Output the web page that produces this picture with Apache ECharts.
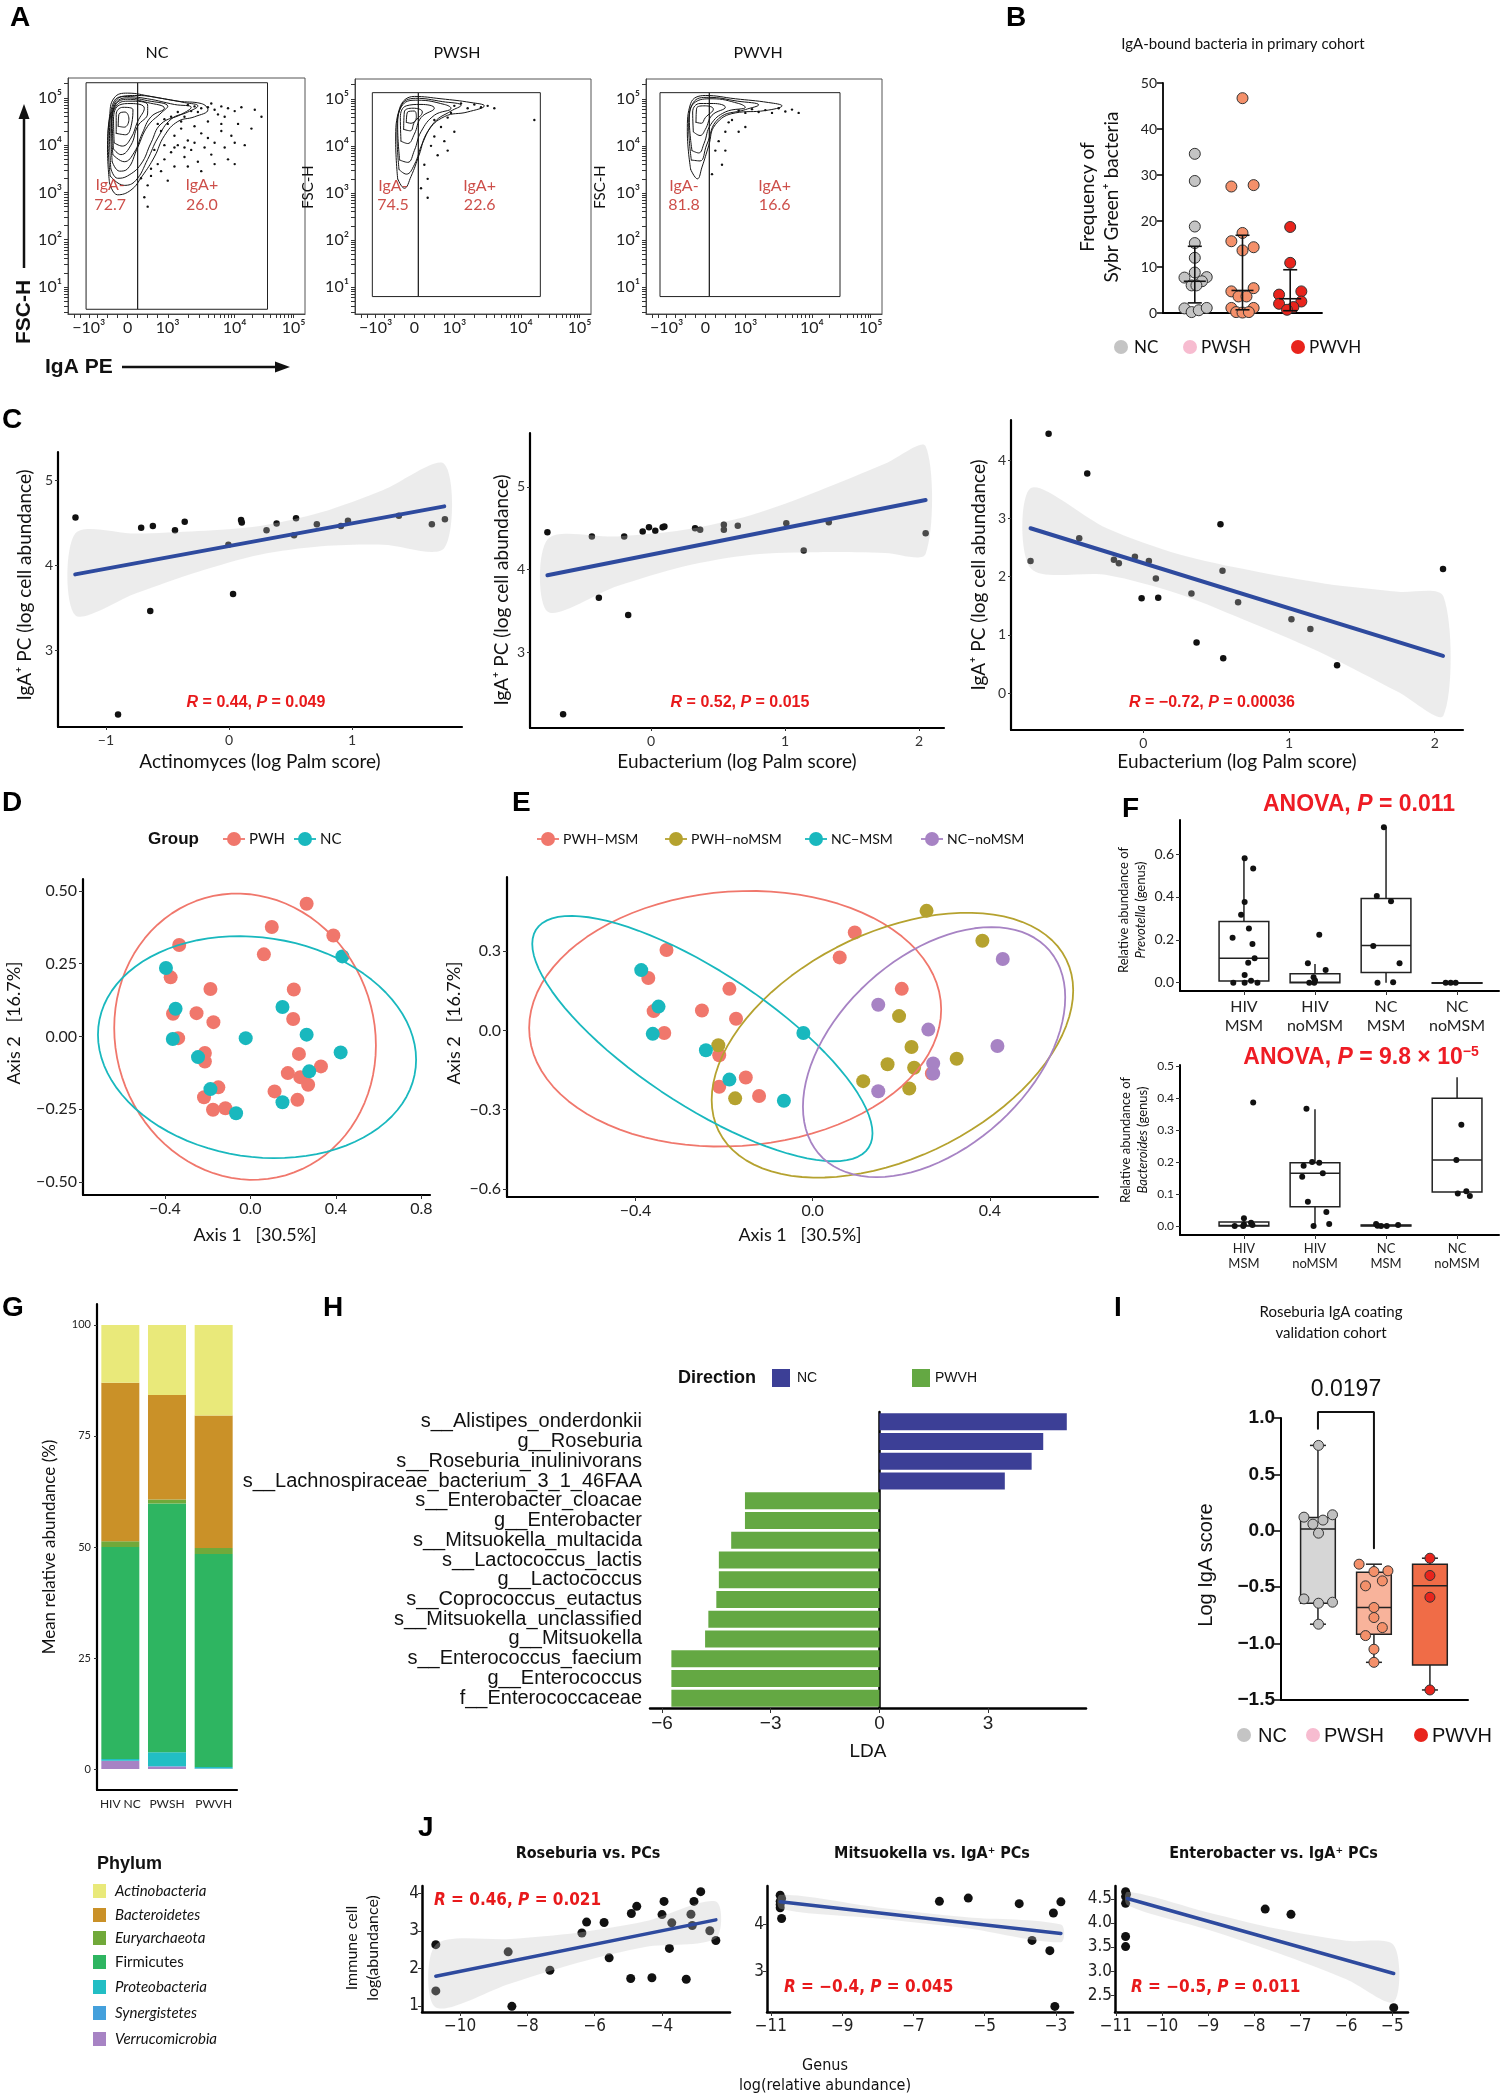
<!DOCTYPE html>
<html>
<head>
<meta charset="utf-8">
<title>IgA figure</title>
<script src="https://cdn.jsdelivr.net/npm/echarts@6.0.0/dist/echarts.min.js"></script>
<style>
  html, body { margin: 0; padding: 0; background: #fff; }
  #fig { width: 1501px; height: 2100px; }
</style>
</head>
<body>
<div id="fig"></div>
<script>
const FONT = "Lato, 'Open Sans', sans-serif";
const ARIAL = "'Liberation Sans', Arial, sans-serif";
const NARROW = "'Liberation Sans Narrow', 'DejaVu Sans Condensed', 'Liberation Sans', sans-serif";

// ---------------- A: flow cytometry (x in biexponential display units, y = log10 FSC-H)
const flowTitles = ['NC', 'PWSH', 'PWVH'];
const flowXTicks = [-0.58, 0, 0.6, 1.6, 2.48];
const flowXLabels = ['−10³', '0', '10³', '10⁴', '10⁵'];
const flowYTicks = [1, 2, 3, 4, 5];
const flowYLabels = ['10¹', '10²', '10³', '10⁴', '10⁵'];
// [left, split, right, bottom, top]
const flowGates = [[-0.62, 0.15, 2.09, 0.53, 5.32], [-0.63, 0.06, 1.89, 0.80, 5.13], [-0.68, 0.06, 2.02, 0.80, 5.13]];
const flowNegPct = ['72.7', '74.5', '81.8'];
const flowPosPct = ['26.0', '22.6', '16.6'];
const flowNegX = [-0.26, -0.32, -0.32];
const flowPosX = [1.11, 0.98, 1.04];
const ncContours = [
  [[-0.27,3.2],[-0.3,3.9],[-0.27,4.6],[-0.2,5.0],[0.0,5.1],[0.35,5.03],[0.75,4.93],[1.1,4.88],[1.2,4.75],[1.0,4.6],[0.75,4.5],[0.55,4.2],[0.4,3.75],[0.22,3.35],[0.05,3.05],[-0.15,2.95],[-0.27,3.2]],
  [[-0.26,3.35],[-0.29,4.05],[-0.25,4.7],[-0.12,5.02],[0.15,5.05],[0.5,4.99],[0.85,4.9],[1.05,4.83],[0.9,4.7],[0.65,4.55],[0.45,4.15],[0.3,3.7],[0.12,3.25],[-0.05,3.15],[-0.26,3.35]],
  [[-0.25,3.5],[-0.27,4.2],[-0.22,4.8],[-0.05,5.03],[0.3,4.98],[0.7,4.86],[0.95,4.8],[0.8,4.65],[0.5,4.45],[0.35,4.05],[0.2,3.6],[0.0,3.35],[-0.15,3.3],[-0.25,3.5]],
  [[-0.23,3.65],[-0.25,4.3],[-0.2,4.82],[-0.02,5.0],[0.3,4.94],[0.6,4.82],[0.5,4.68],[0.3,4.4],[0.15,3.95],[0.0,3.5],[-0.12,3.45],[-0.23,3.65]],
  [[-0.22,3.8],[-0.24,4.4],[-0.18,4.85],[0.0,4.97],[0.3,4.9],[0.55,4.78],[0.35,4.6],[0.22,4.25],[0.1,3.85],[-0.05,3.65],[-0.22,3.8]],
  [[-0.21,3.92],[-0.23,4.5],[-0.15,4.86],[0.02,4.93],[0.3,4.85],[0.3,4.68],[0.15,4.4],[0.05,4.0],[-0.1,3.8],[-0.21,3.92]],
  [[-0.2,4.05],[-0.21,4.55],[-0.12,4.85],[0.05,4.88],[0.25,4.78],[0.15,4.5],[0.05,4.15],[-0.08,3.98],[-0.2,4.05]],
  [[-0.17,4.25],[-0.17,4.65],[-0.07,4.8],[0.08,4.75],[0.06,4.45],[-0.03,4.22],[-0.17,4.25]],
  [[-0.14,4.4],[-0.13,4.65],[-0.04,4.7],[0.02,4.55],[-0.05,4.38],[-0.14,4.4]]
];
const pwshContours = [
  [[-0.25,3.3],[-0.28,4.1],[-0.22,4.8],[0.0,5.05],[0.4,5.0],[0.85,4.92],[1.05,4.85],[0.8,4.72],[0.45,4.62],[0.2,4.3],[0.07,3.8],[-0.05,3.35],[-0.15,3.1],[-0.25,3.3]],
  [[-0.23,3.5],[-0.26,4.25],[-0.2,4.84],[0.02,5.01],[0.42,4.94],[0.7,4.86],[0.55,4.74],[0.3,4.5],[0.12,4.05],[0.0,3.6],[-0.12,3.4],[-0.23,3.5]],
  [[-0.22,3.7],[-0.25,4.4],[-0.17,4.88],[0.05,4.97],[0.45,4.88],[0.55,4.8],[0.3,4.65],[0.1,4.3],[0.0,3.9],[-0.1,3.65],[-0.22,3.7]],
  [[-0.2,4.1],[-0.21,4.6],[-0.12,4.85],[0.1,4.88],[0.3,4.8],[0.1,4.6],[0.0,4.25],[-0.1,4.05],[-0.2,4.1]],
  [[-0.16,4.35],[-0.15,4.72],[-0.02,4.8],[0.12,4.72],[0.0,4.5],[-0.06,4.32],[-0.16,4.35]],
  [[-0.12,4.5],[-0.1,4.72],[0.0,4.74],[0.03,4.6],[-0.05,4.48],[-0.12,4.5]]
];
const pwvhContours = [
  [[-0.22,3.5],[-0.27,4.3],[-0.22,4.9],[0.0,5.07],[0.45,5.0],[0.95,4.92],[1.15,4.85],[0.9,4.75],[0.45,4.7],[0.15,4.45],[0.05,4.0],[-0.05,3.55],[-0.12,3.3],[-0.22,3.5]],
  [[-0.21,3.7],[-0.25,4.42],[-0.18,4.92],[0.05,5.03],[0.48,4.95],[0.8,4.87],[0.6,4.77],[0.2,4.58],[0.02,4.02],[-0.08,3.68],[-0.21,3.7]],
  [[-0.2,3.9],[-0.24,4.55],[-0.15,4.93],[0.1,5.0],[0.5,4.9],[0.6,4.82],[0.3,4.72],[0.08,4.45],[-0.02,4.05],[-0.1,3.85],[-0.2,3.9]],
  [[-0.18,4.3],[-0.19,4.72],[-0.08,4.9],[0.12,4.9],[0.3,4.82],[0.1,4.65],[0.0,4.35],[-0.08,4.22],[-0.18,4.3]],
  [[-0.14,4.5],[-0.13,4.8],[0.0,4.85],[0.12,4.78],[0.0,4.6],[-0.06,4.48],[-0.14,4.5]]
];
const ncDots = [[0.9,4.85],[1.0,4.82],[1.1,4.78],[1.2,4.8],[1.3,4.75],[1.4,4.82],[1.5,4.78],[1.6,4.72],[1.7,4.8],[1.25,4.88],[1.05,4.7],[1.35,4.65],[0.95,4.72],[0.5,4.3],[0.6,4.45],[0.7,4.2],[0.8,4.35],[0.9,4.1],[1.0,4.4],[1.1,4.25],[1.2,4.5],[1.3,4.05],[1.4,4.3],[0.55,4.0],[0.65,3.85],[0.75,4.0],[0.85,3.75],[0.95,3.9],[1.05,3.65],[1.15,3.95],[1.25,3.8],[1.45,3.95],[1.55,4.2],[1.6,3.6],[0.45,3.6],[0.35,3.35],[0.5,3.45],[0.7,3.55],[0.4,3.9],[0.3,3.15],[0.6,3.25],[1.75,4.0],[0.25,2.9],[0.2,3.3],[1.45,4.6],[1.65,4.45],[0.85,4.6],[0.75,4.7],
  [0.55,4.55],[0.65,4.6],[0.45,4.45],[0.8,4.5],[0.7,3.95],[0.9,3.55],[1.1,3.45],[1.3,3.6],[1.5,3.7],[1.2,4.15],[1.6,4.05],[1.85,4.35],[0.35,3.5],[0.55,3.7],[1.0,4.05],[1.4,4.45],[0.3,2.7],[1.9,4.75],[2.0,4.6],[0.85,3.95]];
const pwshDots = [[0.6,4.85],[0.7,4.9],[0.8,4.8],[0.9,4.88],[1.0,4.82],[1.1,4.85],[1.2,4.8],[0.5,4.6],[0.4,4.4],[0.3,4.2],[0.25,4.0],[0.35,3.8],[0.15,3.6],[0.2,3.3],[0.1,3.1],[0.5,3.9],[0.6,4.3],[0.45,4.1],[1.8,4.55],[0.55,4.7],[0.3,4.55],[0.2,2.9]];
const pwvhDots = [[0.5,4.75],[0.6,4.7],[0.7,4.78],[0.8,4.72],[0.9,4.76],[1.0,4.7],[1.1,4.8],[1.2,4.73],[1.3,4.77],[1.4,4.7],[0.35,4.5],[0.3,4.3],[0.2,4.1],[0.15,3.9],[0.4,4.55],[0.6,4.4],[0.25,3.6],[0.1,3.4],[0.3,3.9],[0.5,4.3]];

// ---------------- B
const bGroups = ['NC', 'PWSH', 'PWVH'];
const bPos = [0.2, 0.5, 0.8];
const bNC = [[0.20,34.6],[0.20,28.7],[0.20,18.8],[0.20,15.2],[0.20,12.0],[0.20,8.8],[0.135,7.7],[0.275,7.8],[0.245,6.9],[0.18,6.0],[0.21,6.0],[0.135,1.0],[0.18,0.2],[0.225,0.6],[0.275,1.1]];
const bPWSH = [[0.50,46.7],[0.43,27.5],[0.57,27.8],[0.50,17.4],[0.43,15.6],[0.57,14.3],[0.50,13.6],[0.57,5.4],[0.43,4.7],[0.475,3.6],[0.525,3.6],[0.43,1.1],[0.57,1.1],[0.46,0.2],[0.50,0.1],[0.54,0.2]];
const bPWVH = [[0.80,18.7],[0.80,10.9],[0.87,4.7],[0.73,4.0],[0.87,2.5],[0.73,2.0],[0.82,1.3],[0.78,0.7]];
const bMedian = [6.9, 4.9, 3.1];
const bLow = [2.2, 0.7, 0.5];
const bHigh = [14.5, 16.9, 9.4];

// ---------------- C
const c1X = [-1.248,-0.902,-0.714,-0.640,-0.619,-0.439,-0.360,-0.005,0.033,0.098,0.104,0.305,0.387,0.529,0.545,0.714,0.910,0.967,1.381,1.649,1.755];
const c1Y = [4.56,2.24,4.44,3.46,4.46,4.41,4.51,4.24,3.66,4.53,4.50,4.41,4.49,4.35,4.55,4.48,4.46,4.52,4.58,4.48,4.54];
const c1FitX = [-1.25, 1.75], c1FitY = [3.89, 4.69];
const c1BandX = [-1.25,-0.75,-0.25,0.25,0.75,1.25,1.75];
const c1BandUp = [4.37,4.37,4.40,4.46,4.62,4.88,5.19];
const c1BandLo = [3.41,3.67,3.92,4.12,4.22,4.24,4.20];
const c2X = [-0.773,-0.656,-0.441,-0.389,-0.2,-0.17,-0.062,-0.015,0.032,0.087,0.10,0.329,0.367,0.544,0.544,0.648,1.01,1.14,1.327,2.05];
const c2Y = [4.45,2.25,4.40,3.66,4.40,3.45,4.46,4.51,4.47,4.51,4.52,4.50,4.48,4.54,4.48,4.53,4.56,4.23,4.57,4.44];
const c2FitX = [-0.773, 2.05], c2FitY = [3.93, 4.84];
const c2BandX = [-0.77,-0.25,0.25,0.75,1.25,1.75,2.05];
const c2BandUp = [4.37,4.40,4.48,4.66,4.95,5.28,5.49];
const c2BandLo = [3.49,3.80,4.04,4.18,4.21,4.20,4.19];
const c3X = [-0.773,-0.649,-0.439,-0.384,-0.201,-0.167,-0.057,-0.011,0.039,0.087,0.103,0.331,0.366,0.530,0.544,0.549,0.651,1.017,1.147,1.330,2.057];
const c3Y = [2.27,4.45,2.66,3.77,2.29,2.23,2.34,1.63,2.27,1.97,1.64,1.71,0.87,2.90,2.10,0.60,1.56,1.27,1.10,0.48,2.13];
const c3FitX = [-0.773, 2.057], c3FitY = [2.83, 0.64];
const c3BandX = [-0.77,-0.25,0.25,0.75,1.25,1.75,2.06];
const c3BandUp = [3.52,2.83,2.38,2.10,1.88,1.74,1.66];
const c3BandLo = [2.14,2.03,1.70,1.20,0.66,0.02,-0.38];

// ---------------- D (PCoA)
const dPWH = [[0.263,0.456],[0.100,0.376],[0.388,0.347],[0.063,0.282],[-0.333,0.314],[-0.373,0.203],[-0.187,0.163],[0.203,0.161],[-0.362,0.078],[-0.252,0.080],[-0.173,0.049],[0.200,0.060],[-0.338,-0.006],[-0.213,-0.057],[-0.213,-0.086],[0.227,-0.060],[0.330,-0.103],[0.175,-0.126],[0.233,-0.140],[0.270,-0.166],[-0.150,-0.175],[-0.217,-0.209],[0.113,-0.189],[0.220,-0.218],[-0.175,-0.252],[-0.117,-0.247]];
const dNC = [[0.430,0.275],[-0.395,0.235],[-0.350,0.095],[0.150,0.101],[-0.022,-0.006],[-0.363,-0.009],[0.263,0.006],[0.422,-0.055],[-0.245,-0.071],[0.275,-0.120],[-0.187,-0.181],[0.150,-0.226],[-0.067,-0.264]];
// ellipse parameters: [cx, cy, rx, ry, shear]
const dEllPWH = [-0.025, -0.001, 0.612, 0.491, -0.03];
const dEllNC = [0.031, -0.037, 0.744, 0.379, -0.043];

// ---------------- E
const ePWHMSM = [[0.095,0.370],[-0.330,0.304],[0.061,0.276],[-0.371,0.198],[-0.188,0.157],[0.201,0.157],[-0.250,0.075],[-0.173,0.044],[-0.359,0.073],[-0.335,-0.010],[-0.211,-0.094],[-0.151,-0.178],[-0.211,-0.213],[-0.121,-0.248],[0.269,-0.163]];
const ePWHnoMSM = [[0.257,0.452],[0.383,0.339],[0.195,0.054],[0.223,-0.063],[0.325,-0.107],[0.169,-0.128],[0.229,-0.141],[0.114,-0.192],[0.218,-0.220],[-0.175,-0.257],[-0.213,-0.056]];
const eNCMSM = [[-0.387,0.228],[-0.348,0.090],[-0.361,-0.013],[-0.241,-0.075],[-0.021,-0.010],[-0.188,-0.186],[-0.065,-0.266]];
const eNCnoMSM = [[0.429,0.270],[0.148,0.097],[0.261,0.003],[0.417,-0.059],[0.272,-0.125],[0.148,-0.230],[0.272,-0.163]];
const eEllPWHMSM = [-0.175, 0.044, 0.465, 0.482, 0.035];
const eEllPWHnoMSM = [0.180, -0.056, 0.408, 0.456, 0.207];
const eEllNCMSM = [-0.249, -0.031, 0.384, 0.295, -0.358];
const eEllNCnoMSM = [0.274, -0.082, 0.296, 0.425, 0.207];

// ---------------- F (boxplots: [min, q1, median, q3, max])
const fCats = ['HIV\nMSM', 'HIV\nnoMSM', 'NC\nMSM', 'NC\nnoMSM'];
const fPrevStats = [[0, 0.008, 0.114, 0.285, 0.58], [0, 0, 0.002, 0.042, 0.087], [0, 0.047, 0.173, 0.393, 0.725], [0, 0, 0, 0, 0]];
const fPrevPts = [[0.01,0.58],[0.13,0.533],[0.01,0.376],[-0.04,0.317],[0.07,0.253],[-0.16,0.21],[0.12,0.18],[0.15,0.114],[0.06,0.093],[0.01,0.036],[-0.15,0],[0.01,0],[0.10,0.009],[0.19,0],
  [1.06,0.224],[0.90,0.09],[1.15,0.059],[0.98,0.025],[0.92,0],[0.99,0],[1.0,0.01],
  [1.97,0.725],[1.87,0.404],[2.07,0.38],[1.82,0.171],[2.19,0.09],[1.88,0],[2.10,0.002],
  [2.84,0],[2.91,0],[2.98,0]];
const fBactStats = [[0, 0, 0.002, 0.0125, 0.03], [0, 0.06, 0.165, 0.198, 0.365], [0, 0, 0.002, 0.003, 0.006], [0.094, 0.106, 0.206, 0.399, 0.465]];
const fBactPts = [[0.13,0.386],[0.0,0.024],[0.0,0.005],[0.10,0.01],[-0.13,0],[-0.01,0],[0.12,0.003],
  [0.88,0.366],[0.84,0.188],[0.96,0.2],[1.06,0.198],[0.82,0.154],[1.11,0.165],[0.90,0.076],[1.16,0.044],[1.20,0.006],[0.98,0],
  [1.86,0.006],[1.93,0],[2.01,0],[2.17,0.003],[1.88,0.001],
  [3.06,0.316],[2.99,0.206],[3.13,0.109],[3.01,0.102],[3.18,0.094]];

// ---------------- G (stacked %, bottom to top)
const gCats = ['HIV NC', 'PWSH', 'PWVH'];
const gPhyla = ['Verrucomicrobia', 'Synergistetes', 'Proteobacteria', 'Firmicutes', 'Euryarchaeota', 'Bacteroidetes', 'Actinobacteria'];
const gColors = ['#a783c4', '#44a0dc', '#22bec4', '#2eb561', '#71a93a', '#ca9128', '#e9e97a'];
const gVerruco = [1.8, 0.6, 0.1];
const gSynerg = [0.1, 0.1, 0.05];
const gProteo = [0.4, 3.1, 0.35];
const gFirmi = [47.7, 56.0, 47.9];
const gEury = [1.3, 0.9, 1.4];
const gBacter = [35.7, 23.5, 29.8];
const gActino = [13.0, 15.8, 20.4];

// ---------------- H (LDA)
const hTaxa = ['s__Alistipes_onderdonkii', 'g__Roseburia', 's__Roseburia_inulinivorans', 's__Lachnospiraceae_bacterium_3_1_46FAA', 's__Enterobacter_cloacae', 'g__Enterobacter', 's__Mitsuokella_multacida', 's__Lactococcus_lactis', 'g__Lactococcus', 's__Coprococcus_eutactus', 's__Mitsuokella_unclassified', 'g__Mitsuokella', 's__Enterococcus_faecium', 'g__Enterococcus', 'f__Enterococcaceae'];
const hLDA = [5.17, 4.52, 4.20, 3.46, -3.71, -3.71, -4.09, -4.43, -4.43, -4.50, -4.72, -4.81, -5.74, -5.74, -5.74];

// ---------------- I
const iGroups = ['NC', 'PWSH', 'PWVH'];
const iStats = [[-0.828, -0.642, 0.015, 0.118, 0.757], [-1.166, -0.917, -0.680, -0.367, -0.296], [-1.411, -1.189, -0.488, -0.296, -0.243]];
const iNC = [[0.01,0.757],[-0.25,0.121],[0.26,0.142],[-0.09,0.059],[0.09,0.095],[0.01,-0.021],[-0.25,-0.604],[0.01,-0.642],[0.26,-0.633],[0.01,-0.828]];
const iPWSH = [[0.735,-0.296],[1.0,-0.361],[1.25,-0.355],[1.15,-0.444],[0.85,-0.488],[1.0,-0.680],[1.0,-0.769],[1.15,-0.858],[0.85,-0.929],[1.0,-1.05],[1.0,-1.166]];
const iPWVH = [[2.0,-0.243],[2.0,-0.396],[2.0,-0.589],[2.0,-1.411]];
const iBracket = [[0, 0.905], [0, 1.053], [1, 1.053], [1, -0.154]];

// ---------------- J
const j1X = [-10.72,-10.72,-8.57,-8.46,-7.33,-6.38,-6.24,-5.72,-5.57,-4.93,-4.91,-4.75,-4.30,-4.00,-3.94,-3.78,-3.71,-3.28,-3.14,-3.10,-3.05,-2.85,-2.58,-2.40];
const j1Y = [2.63,1.40,2.44,0.99,1.95,2.94,3.23,3.22,2.28,1.73,3.46,3.65,1.75,3.43,3.78,2.53,3.21,1.71,3.44,3.14,3.78,4.04,3.00,2.74];
const j1FitX = [-10.72, -2.40], j1FitY = [1.79, 3.29];
const j1BandX = [-10.72,-8.5,-6.5,-4.5,-2.4], j1BandUp = [2.63,2.78,2.95,3.25,3.78], j1BandLo = [0.96,1.60,2.15,2.57,2.80];
const j2X = [-10.74,-10.74,-10.74,-10.70,-10.74,-10.70,-6.27,-5.46,-4.03,-3.67,-3.17,-3.07,-3.03,-2.86];
const j2Y = [4.63,4.50,4.36,4.56,4.43,4.13,4.50,4.57,4.45,3.66,3.44,4.25,2.24,4.49];
const j2FitX = [-10.74, -2.86], j2FitY = [4.49, 3.81];
const j2BandX = [-10.74,-8,-5.5,-2.86], j2BandUp = [4.64,4.37,4.16,4.00], j2BandLo = [4.34,4.13,3.92,3.62];
const j3X = [-10.79,-10.79,-10.79,-10.77,-10.79,-10.79,-7.76,-7.20,-4.97];
const j3Y = [4.65,4.55,4.41,4.60,3.72,3.51,4.29,4.18,2.24];
const j3FitX = [-10.75, -4.97], j3FitY = [4.51, 2.95];
const j3BandX = [-10.75,-9,-7.5,-6,-4.97], j3BandUp = [4.65,4.22,3.88,3.63,3.54], j3BandLo = [4.37,3.86,3.38,2.83,2.36];

// ================= builders
const grids = [], xAxes = [], yAxes = [], series = [], graphics = [];
const zip = (a, b) => a.map((v, i) => [v, b[i]]);
const num = (v, d) => (v < 0 ? '−' : '') + Math.abs(v).toFixed(d);

function grid(l, t, w, h, xa, ya, extra) {
  const i = grids.length;
  grids.push(Object.assign({ left: l, top: t, width: w, height: h }, extra || {}));
  xAxes.push(Object.assign({ gridIndex: i }, xa));
  yAxes.push(Object.assign({ gridIndex: i }, ya));
  return i;
}
function valAxis(min, max, ticks, o) {
  o = o || {};
  return {
    type: 'value', min: min, max: max, splitLine: { show: false },
    axisLine: { show: o.noLine ? false : true, onZero: false, lineStyle: { color: o.lineColor || '#000', width: o.lw || 2 } },
    axisTick: { show: !o.noTick, customValues: o.tickValues || ticks, length: o.tickLen || 4, lineStyle: { color: o.tickColor || '#333', width: o.tickW || 1 } },
    axisLabel: { show: !o.noLabel, customValues: ticks, formatter: o.fmt || (v => num(v, 0)), color: o.color || '#222',
      fontSize: o.fs || 14, fontFamily: o.ff || FONT, fontWeight: o.fw || 'normal', margin: o.margin || 6, lineHeight: o.lh || null }
  };
}
function T(x, y, text, o) {
  o = o || {};
  const st = { text: text, fill: o.color || '#111', fontSize: o.fs || 15, fontFamily: o.ff || FONT,
    fontWeight: o.fw || 'normal', fontStyle: o.fst || 'normal',
    align: o.align || 'center', verticalAlign: o.va || 'middle', textAlign: o.align || 'center', textVerticalAlign: o.va || 'middle' };
  if (o.rich) st.rich = o.rich;
  graphics.push({ type: 'text', x: x, y: y, rotation: o.rot || 0, silent: true, z: 50, style: st });
}
function scatter(gi, data, size, color, o) {
  o = o || {};
  series.push({ type: 'scatter', xAxisIndex: gi, yAxisIndex: gi, data: data, symbolSize: size, silent: true, z: o.z || 2,
    itemStyle: { color: color, opacity: 1, borderColor: o.border || color, borderWidth: o.border ? (o.bw || 1) : 0 } });
}
function line(gi, data, color, width, o) {
  o = o || {};
  series.push({ type: 'line', xAxisIndex: gi, yAxisIndex: gi, data: data, symbol: 'none', silent: true, smooth: o.smooth || false,
    clip: o.clip === false ? false : true, z: o.z || 4, lineStyle: { color: color, width: width, cap: 'round' } });
}
function polygon(gi, pts, fill, z) {
  series.push({ type: 'custom', xAxisIndex: gi, yAxisIndex: gi, silent: true, z: z || 3, data: [pts[0]],
    renderItem: (p, api) => ({ type: 'polygon', shape: { points: pts.map(q => api.coord(q)), smooth: 0.3 }, style: { fill: fill } }) });
}
function band(gi, xs, up, lo, fill) {
  polygon(gi, zip(xs, up).concat(zip(xs, lo).reverse()), fill, 3);
}
function ellipse(e) {
  const pts = [];
  for (let k = 0; k <= 90; k++) {
    const t = k / 90 * 2 * Math.PI;
    pts.push([e[0] + e[2] * Math.cos(t), e[1] + e[3] * Math.sin(t) + e[4] * Math.cos(t)]);
  }
  return pts;
}
function boxes(gi, stats, o) {
  series.push({ type: 'custom', xAxisIndex: gi, yAxisIndex: gi, silent: true, z: o.z || 3, clip: false,
    data: stats.map((s, i) => [i].concat(s)),
    renderItem: (p, api) => {
      const x = api.value(0), i = p.dataIndex;
      const pt = v => api.coord([x, v]);
      const hw = api.size([o.halfW, 0])[0];
      const lo = pt(api.value(1)), q1 = pt(api.value(2)), md = pt(api.value(3)), q3 = pt(api.value(4)), hi = pt(api.value(5));
      const cx = lo[0];
      const ls = { stroke: o.stroke || '#222', lineWidth: o.lw || 1.3 };
      const ch = [
        { type: 'line', shape: { x1: cx, y1: q3[1], x2: cx, y2: hi[1] }, style: ls },
        { type: 'line', shape: { x1: cx, y1: q1[1], x2: cx, y2: lo[1] }, style: ls },
        { type: 'rect', shape: { x: cx - hw, y: q3[1], width: 2 * hw, height: Math.max(q1[1] - q3[1], 0.5) },
          style: { fill: o.fills ? o.fills[i] : 'rgba(0,0,0,0)', stroke: ls.stroke, lineWidth: ls.lineWidth } },
        { type: 'line', shape: { x1: cx - hw, y1: md[1], x2: cx + hw, y2: md[1] }, style: ls }
      ];
      if (o.cap) {
        ch.push({ type: 'line', shape: { x1: cx - o.cap, y1: hi[1], x2: cx + o.cap, y2: hi[1] }, style: ls });
        ch.push({ type: 'line', shape: { x1: cx - o.cap, y1: lo[1], x2: cx + o.cap, y2: lo[1] }, style: ls });
      }
      return { type: 'group', children: ch };
    } });
}

// ================= A
const flowRects = [[68, 78, 237, 236], [355, 79, 236, 235], [646, 79, 236, 235]];
const flowContours = [ncContours, pwshContours, pwvhContours];
const flowDots = [ncDots, pwshDots, pwvhDots];
const flowTitleX = [157, 457, 758];
const flowYMinor = [], flowXMinor = [];
for (let d = 0; d < 6; d++) for (let k = 2; k <= 9; k++) { const v = d + Math.log10(k); if (v > 0.45 && v < 5.4) flowYMinor.push(v); }
for (let k = 2; k <= 9; k++) { flowXMinor.push(0.6 + Math.log10(k)); flowXMinor.push(1.6 + 0.88 * Math.log10(k)); }
[-0.8, -0.7, -0.45, -0.3, -0.15, 0.15, 0.3, 0.45].forEach(v => flowXMinor.push(v));
flowTitles.forEach((t, i) => {
  const r = flowRects[i];
  const gi = grid(r[0], r[1], r[2], r[3],
    valAxis(-0.89, 2.65, flowXTicks, { lw: 1, lineColor: '#444', tickValues: flowXTicks.concat(flowXMinor), tickLen: 4, fs: 16, color: '#222',
      fmt: v => flowXLabels[flowXTicks.indexOf(v)] }),
    valAxis(0.43, 5.42, flowYTicks, { lw: 1, lineColor: '#444', tickValues: flowYTicks.concat(flowYMinor), tickLen: 4, fs: 16, color: '#222',
      fmt: v => flowYLabels[flowYTicks.indexOf(v)] }),
    { show: true, borderColor: '#555', borderWidth: 1, backgroundColor: 'rgba(0,0,0,0)' });
  flowContours[i].forEach(ring => line(gi, ring, '#151515', 1, { smooth: 0.45, z: 3 }));
  scatter(gi, flowDots[i], 2.4, '#111', { z: 3 });
  series.push({ type: 'custom', xAxisIndex: gi, yAxisIndex: gi, silent: true, z: 2, data: [flowGates[i]],
    renderItem: (p, api) => {
      const g = flowGates[i];
      const a = api.coord([g[0], g[4]]), b = api.coord([g[1], g[3]]), c = api.coord([g[2], g[3]]);
      const st = { fill: 'rgba(0,0,0,0)', stroke: '#222', lineWidth: 1 };
      return { type: 'group', children: [
        { type: 'rect', shape: { x: a[0], y: a[1], width: b[0] - a[0], height: b[1] - a[1] }, style: st },
        { type: 'rect', shape: { x: b[0], y: a[1], width: c[0] - b[0], height: c[1] - a[1] }, style: st }] };
    } });
  series.push({ type: 'scatter', xAxisIndex: gi, yAxisIndex: gi, symbolSize: 0, silent: true, z: 6,
    data: [{ name: 'IgA-', value: [flowNegX[i], 3.16] }, { name: flowNegPct[i], value: [flowNegX[i], 2.74] },
           { name: 'IgA+', value: [flowPosX[i], 3.16] }, { name: flowPosPct[i], value: [flowPosX[i], 2.74] }],
    label: { show: true, position: 'inside', formatter: p => p.name, color: '#c0221c', fontSize: 16, fontFamily: FONT } });
  T(flowTitleX[i], 53, t, { fs: 16 });
});
T(308, 187, 'FSC-H', { fs: 15, rot: Math.PI / 2 });
T(600, 187, 'FSC-H', { fs: 15, rot: Math.PI / 2 });
T(24, 312, 'FSC-H', { fs: 21, fw: 'bold', rot: Math.PI / 2, ff: ARIAL });
T(45, 367, 'IgA PE', { fs: 21, fw: 'bold', align: 'left', ff: ARIAL });
graphics.push({ type: 'polyline', silent: true, shape: { points: [[24, 268], [24, 116]] }, style: { stroke: '#111', lineWidth: 2.5 } });
graphics.push({ type: 'polygon', silent: true, shape: { points: [[24, 104], [18.5, 119], [29.5, 119]] }, style: { fill: '#111' } });
graphics.push({ type: 'polyline', silent: true, shape: { points: [[122, 367], [278, 367]] }, style: { stroke: '#111', lineWidth: 2.5 } });
graphics.push({ type: 'polygon', silent: true, shape: { points: [[290, 367], [275, 361.5], [275, 372.5]] }, style: { fill: '#111' } });

// ================= B
const gB = grid(1163, 83, 159, 230,
  valAxis(0, 1, [], { noTick: true, noLabel: true, lw: 1.8 }),
  valAxis(0, 50, [0, 10, 20, 30, 40, 50], { lw: 1.8, tickLen: 6, tickW: 1.5, tickColor: '#000', fs: 14 }));
scatter(gB, bNC, 11, '#c4c4c4', { border: '#333' });
scatter(gB, bPWSH, 11, '#f4906a', { border: '#333' });
scatter(gB, bPWVH, 11, '#e8241c', { border: '#333' });
series.push({ type: 'custom', xAxisIndex: gB, yAxisIndex: gB, silent: true, z: 6, clip: false,
  data: bPos.map((x, i) => [x, bMedian[i], bLow[i], bHigh[i]]),
  renderItem: (p, api) => {
    const x = api.value(0);
    const m = api.coord([x, api.value(1)]), l = api.coord([x, api.value(2)]), h = api.coord([x, api.value(3)]);
    const st = { stroke: '#111', lineWidth: 1.6 };
    return { type: 'group', children: [
      { type: 'line', shape: { x1: m[0], y1: l[1], x2: m[0], y2: h[1] }, style: st },
      { type: 'line', shape: { x1: m[0] - 7, y1: l[1], x2: m[0] + 7, y2: l[1] }, style: st },
      { type: 'line', shape: { x1: m[0] - 7, y1: h[1], x2: m[0] + 7, y2: h[1] }, style: st },
      { type: 'line', shape: { x1: m[0] - 11, y1: m[1], x2: m[0] + 11, y2: m[1] }, style: st }] };
  } });
T(1243, 44, 'IgA-bound bacteria in primary cohort', { fs: 15 });
T(1088, 197, 'Frequency of', { fs: 19, rot: Math.PI / 2 });
T(1112, 197, 'Sybr Green⁺ bacteria', { fs: 19, rot: Math.PI / 2 });
[[1121, '#c4c4c4', 'NC', 1134], [1190, '#f7bcd0', 'PWSH', 1201], [1298, '#e8241c', 'PWVH', 1309]].forEach(L => {
  graphics.push({ type: 'circle', silent: true, shape: { cx: L[0], cy: 347, r: 7 }, style: { fill: L[1] } });
  T(L[3], 348, L[2], { fs: 17, align: 'left' });
});

// ================= C
const cRich = { i: { fontStyle: 'italic', fontWeight: 'bold', fontSize: 16, fontFamily: ARIAL, fill: '#e8191b' },
                n: { fontWeight: 'bold', fontSize: 16, fontFamily: ARIAL, fill: '#e8191b' } };
function cPlot(rect, xr, xt, yr, yt, X, Y, fx, fy, bx, bu, bl, xTitle, yTitleX, yTitleY, ann, annX) {
  const gi = grid(rect[0], rect[1], rect[2], rect[3],
    valAxis(xr[0], xr[1], xt, { lw: 2.2, tickLen: 3, fs: 14, color: '#333' }),
    valAxis(yr[0], yr[1], yt, { lw: 2.2, tickLen: 3, fs: 14, color: '#333', margin: 5 }));
  scatter(gi, zip(X, Y), 6.5, '#111', { z: 2 });
  band(gi, bx, bu, bl, 'rgba(195,195,195,0.32)');
  line(gi, zip(fx, fy), '#2e4a9e', 4, { z: 5 });
  T(rect[0] + rect[2] / 2, 762, xTitle, { fs: 19 });
  T(yTitleX, yTitleY, 'IgA⁺ PC (log cell abundance)', { fs: 19, rot: Math.PI / 2 });
  T(annX, 703, ann, { rich: cRich, fs: 16 });
  return gi;
}
cPlot([58, 452, 404, 275], [-1.39, 1.894], [-1, 0, 1], [2.094, 5.33], [3, 4, 5], c1X, c1Y, c1FitX, c1FitY, c1BandX, c1BandUp, c1BandLo,
  'Actinomyces (log Palm score)', 25, 585, '{i|R}{n| = 0.44, }{i|P}{n| = 0.049}', 256);
cPlot([530, 433, 414, 295], [-0.903, 2.187], [0, 1, 2], [2.085, 5.65], [3, 4, 5], c2X, c2Y, c2FitX, c2FitY, c2BandX, c2BandUp, c2BandLo,
  'Eubacterium (log Palm score)', 502, 590, '{i|R}{n| = 0.52, }{i|P}{n| = 0.015}', 740);
cPlot([1011, 420, 452, 310], [-0.907, 2.194], [0, 1, 2], [-0.63, 4.686], [0, 1, 2, 3, 4], c3X, c3Y, c3FitX, c3FitY, c3BandX, c3BandUp, c3BandLo,
  'Eubacterium (log Palm score)', 979, 575, '{i|R}{n| = −0.72, }{i|P}{n| = 0.00036}', 1212);

// ================= D
const RED = '#f0776c', TEAL = '#19b8be', OLIVE = '#b5a22f', PURPLE = '#a783c4';
const gD = grid(83, 879, 347, 316,
  valAxis(-0.783, 0.84, [-0.4, 0, 0.4, 0.8], { lw: 2.2, tickLen: 4, fs: 16, fmt: v => num(v, 1) }),
  valAxis(-0.545, 0.541, [-0.5, -0.25, 0, 0.25, 0.5], { lw: 2.2, tickLen: 4, fs: 16, fmt: v => num(v, 2) }));
scatter(gD, dPWH, 14, RED);
scatter(gD, dNC, 14, TEAL);
line(gD, ellipse(dEllPWH), RED, 1.8, { z: 3 });
line(gD, ellipse(dEllNC), TEAL, 1.8, { z: 3 });
T(255, 1235, 'Axis 1   [30.5%]', { fs: 18 });
T(14, 1023, 'Axis 2   [16.7%]', { fs: 18, rot: Math.PI / 2 });
T(148, 839, 'Group', { fs: 17, fw: 'bold', align: 'left', ff: ARIAL });
function legKey(cx, cy, color, label, fs) {
  graphics.push({ type: 'polyline', silent: true, shape: { points: [[cx - 11, cy], [cx + 11, cy]] }, style: { stroke: color, lineWidth: 1.8 } });
  graphics.push({ type: 'circle', silent: true, shape: { cx: cx, cy: cy, r: 7 }, style: { fill: color } });
  T(cx + 15, cy, label, { fs: fs || 15, align: 'left' });
}
legKey(234, 839, RED, 'PWH');
legKey(305, 839, TEAL, 'NC');

// ================= E
const gE = grid(507, 877, 591, 320,
  valAxis(-0.69, 0.644, [-0.4, 0, 0.4], { lw: 2.2, tickLen: 4, fs: 16, fmt: v => num(v, 1) }),
  valAxis(-0.63, 0.58, [-0.6, -0.3, 0, 0.3], { lw: 2.2, tickLen: 4, fs: 16, fmt: v => num(v, 1) }));
scatter(gE, ePWHMSM, 14, RED);
scatter(gE, ePWHnoMSM, 14, OLIVE);
scatter(gE, eNCMSM, 14, TEAL);
scatter(gE, eNCnoMSM, 14, PURPLE);
line(gE, ellipse(eEllPWHMSM), RED, 1.8, { z: 3 });
line(gE, ellipse(eEllPWHnoMSM), OLIVE, 1.8, { z: 3 });
line(gE, ellipse(eEllNCMSM), TEAL, 1.8, { z: 3 });
line(gE, ellipse(eEllNCnoMSM), PURPLE, 1.8, { z: 3 });
T(800, 1235, 'Axis 1   [30.5%]', { fs: 18 });
T(454, 1023, 'Axis 2   [16.7%]', { fs: 18, rot: Math.PI / 2 });
legKey(548, 839, RED, 'PWH−MSM', 14);
legKey(676, 839, OLIVE, 'PWH−noMSM', 14);
legKey(816, 839, TEAL, 'NC−MSM', 14);
legKey(932, 839, PURPLE, 'NC−noMSM', 14);

// ================= F
const gF1 = grid(1180, 820, 319, 171,
  valAxis(-0.90, 3.59, [0, 1, 2, 3], { lw: 2, tickLen: 4, fs: 16, lh: 19, color: '#222', fmt: v => fCats[v] }),
  valAxis(-0.039, 0.759, [0, 0.2, 0.4, 0.6], { lw: 2, tickLen: 4, fs: 14, fmt: v => num(v, 1) }));
boxes(gF1, fPrevStats, { halfW: 0.35, lw: 1.5 });
scatter(gF1, fPrevPts, 6, '#111', { z: 5 });
const gF2 = grid(1180, 1065, 319, 170,
  valAxis(-0.90, 3.59, [0, 1, 2, 3], { lw: 2, tickLen: 4, fs: 13, lh: 15, color: '#222', fmt: v => fCats[v] }),
  valAxis(-0.028, 0.503, [0, 0.1, 0.2, 0.3, 0.4, 0.5], { lw: 2, tickLen: 4, fs: 12, fmt: v => num(v, 1) }));
boxes(gF2, fBactStats, { halfW: 0.35, lw: 1.5 });
scatter(gF2, fBactPts, 6, '#111', { z: 5 });
const fRich = { b: { fontWeight: 'bold', fontSize: 23, fontFamily: ARIAL, fill: '#ee1c24' },
                i: { fontWeight: 'bold', fontStyle: 'italic', fontSize: 23, fontFamily: ARIAL, fill: '#ee1c24' },
                s: { fontWeight: 'bold', fontSize: 14, fontFamily: ARIAL, fill: '#ee1c24', padding: [0, 0, 12, 0] } };
T(1359, 805, '{b|ANOVA, }{i|P}{b| = 0.011}', { rich: fRich, fs: 23 });
T(1361, 1058, '{b|ANOVA, }{i|P}{b| = 9.8 × 10}{s|−5}', { rich: fRich, fs: 23 });
const fYRich = { n: { fontSize: 13, fontFamily: FONT, fill: '#111' }, i: { fontSize: 13, fontFamily: FONT, fontStyle: 'italic', fill: '#111' } };
T(1124, 910, 'Relative abundance of', { fs: 13, rot: Math.PI / 2 });
T(1141, 910, '{i|Prevotella}{n| (genus)}', { fs: 13, rot: Math.PI / 2, rich: fYRich });
T(1126, 1140, 'Relative abundance of', { fs: 13, rot: Math.PI / 2 });
T(1143, 1140, '{i|Bacteroides}{n| (genus)}', { fs: 13, rot: Math.PI / 2, rich: fYRich });

// ================= G
const gG = grid(97, 1304, 140, 486,
  { type: 'category', data: gCats, axisLine: { lineStyle: { color: '#000', width: 2.2 }, onZero: false },
    axisTick: { alignWithLabel: true, length: 3, lineStyle: { color: '#333' } },
    axisLabel: { interval: 0, fontSize: 12, color: '#222', fontFamily: FONT, margin: 8 } },
  valAxis(-4.7, 104.7, [0, 25, 50, 75, 100], { lw: 2.2, tickLen: 3, fs: 11 }));
[gVerruco, gSynerg, gProteo, gFirmi, gEury, gBacter, gActino].forEach((vals, k) => {
  series.push({ type: 'bar', xAxisIndex: gG, yAxisIndex: gG, stack: 'phylum', name: gPhyla[k], data: vals, barWidth: 38, silent: true,
    itemStyle: { color: gColors[k] } });
});
T(50, 1547, 'Mean relative abundance (%)', { fs: 17, rot: Math.PI / 2 });
T(97, 1864, 'Phylum', { fs: 18, fw: 'bold', align: 'left', ff: ARIAL });
const gLegendOrder = [6, 5, 4, 3, 2, 1, 0];
const gLegendY = [1891, 1915, 1938, 1962, 1987, 2013, 2039];
gLegendOrder.forEach((k, r) => {
  graphics.push({ type: 'rect', silent: true, shape: { x: 93, y: gLegendY[r] - 7, width: 13, height: 14 }, style: { fill: gColors[k] } });
  T(115, gLegendY[r], gPhyla[k], { fs: 15, align: 'left', fst: gPhyla[k] === 'Firmicutes' ? 'normal' : 'italic' });
});

// ================= H
const gH = grid(650, 1412, 436, 296,
  valAxis(-6.33, 5.7, [-6, -3, 0, 3], { lw: 2.5, tickLen: 5, fs: 19, ff: ARIAL, color: '#222', margin: 6 }),
  { type: 'category', data: hTaxa, inverse: true, axisLine: { lineStyle: { color: '#000', width: 2.5 } },
    axisTick: { alignWithLabel: true, length: 4, lineStyle: { color: '#333' } },
    axisLabel: { interval: 0, fontSize: 20, color: '#111', fontFamily: ARIAL, margin: 8 } });
series.push({ type: 'bar', xAxisIndex: gH, yAxisIndex: gH, stack: 'lda', name: 'NC', silent: true, barWidth: 17,
  data: hLDA.map(v => (v > 0 ? v : '-')), itemStyle: { color: '#3c3f96' } });
series.push({ type: 'bar', xAxisIndex: gH, yAxisIndex: gH, stack: 'lda', name: 'PWVH', silent: true, barWidth: 17,
  data: hLDA.map(v => (v < 0 ? v : '-')), itemStyle: { color: '#64a843' } });
T(868, 1752, 'LDA', { fs: 19, ff: ARIAL });
T(678, 1378, 'Direction', { fs: 18, fw: 'bold', align: 'left', ff: ARIAL });
graphics.push({ type: 'rect', silent: true, shape: { x: 772, y: 1369, width: 18, height: 18 }, style: { fill: '#3c3f96' } });
T(797, 1378, 'NC', { fs: 14, align: 'left', ff: ARIAL });
graphics.push({ type: 'rect', silent: true, shape: { x: 912, y: 1369, width: 18, height: 18 }, style: { fill: '#64a843' } });
T(935, 1378, 'PWVH', { fs: 14, align: 'left', ff: ARIAL });

// ================= I
const gI = grid(1281, 1418, 187, 282,
  valAxis(-0.66, 2.68, [], { noTick: true, noLabel: true, lw: 2 }),
  valAxis(-1.5, 1.0, [-1.5, -1.0, -0.5, 0, 0.5, 1.0], { lw: 2, tickLen: 8, tickW: 1.5, tickColor: '#000', fs: 19, fw: 'bold', ff: ARIAL, color: '#111',
    margin: 6, fmt: v => num(v, 1) }));
boxes(gI, iStats, { halfW: 0.31, lw: 1.5, stroke: '#222', fills: ['#d6d6d6', '#f8b39b', '#f06c47'], cap: 8 });
scatter(gI, iNC, 10, '#c0c0c0', { border: '#333', z: 6 });
scatter(gI, iPWSH, 10, '#f4906a', { border: '#333', z: 6 });
scatter(gI, iPWVH, 10, '#e8241c', { border: '#333', z: 6 });
line(gI, iBracket, '#111', 2, { clip: false, z: 6 });
T(1346, 1390, '0.0197', { fs: 23, ff: ARIAL });
T(1331, 1312, 'Roseburia IgA coating', { fs: 15 });
T(1331, 1333, 'validation cohort', { fs: 15 });
T(1206, 1565, 'Log IgA score', { fs: 20, rot: Math.PI / 2, ff: ARIAL });
[[1244, '#c4c4c4', 'NC', 1258], [1313, '#f7bcd0', 'PWSH', 1324], [1421, '#e8241c', 'PWVH', 1432]].forEach(L => {
  graphics.push({ type: 'circle', silent: true, shape: { cx: L[0], cy: 1735, r: 7 }, style: { fill: L[1] } });
  T(L[3], 1736, L[2], { fs: 20, align: 'left', ff: ARIAL });
});

// ================= J
const jRich = { i: { fontStyle: 'italic', fontWeight: 'bold', fontSize: 17, fontFamily: NARROW, fill: '#e8191b' },
                n: { fontWeight: 'bold', fontSize: 17, fontFamily: NARROW, fill: '#e8191b' } };
function jPlot(rect, xr, xt, yr, yt, yd, X, Y, fx, fy, bx, bu, bl, title, ann, annX, annY) {
  const gi = grid(rect[0], rect[1], rect[2], rect[3],
    valAxis(xr[0], xr[1], xt, { lw: 2.5, tickLen: 4, fs: 17, ff: NARROW, color: '#222' }),
    valAxis(yr[0], yr[1], yt, { lw: 2.5, tickLen: 4, fs: 17, ff: NARROW, color: '#222', margin: 3, fmt: v => num(v, yd) }));
  scatter(gi, zip(X, Y), 9, '#111', { z: 2 });
  band(gi, bx, bu, bl, 'rgba(195,195,195,0.32)');
  line(gi, zip(fx, fy), '#2e4a9e', 3.5, { z: 5 });
  T(rect[0] + rect[2] / 2 + 12, 1854, title, { fs: 16, fw: 'bold', ff: NARROW });
  T(annX, annY, ann, { rich: jRich, fs: 17, align: 'left' });
}
jPlot([422, 1886, 308, 126], [-11.13, -1.98], [-10, -8, -6, -4], [0.84, 4.19], [1, 2, 3, 4], 0, j1X, j1Y, j1FitX, j1FitY, j1BandX, j1BandUp, j1BandLo,
  'Roseburia vs. PCs', '{i|R}{n| = 0.46, }{i|P}{n| = 0.021}', 434, 1901);
jPlot([767, 1886, 306, 126], [-11.11, -2.52], [-11, -9, -7, -5, -3], [2.12, 4.83], [3, 4], 0, j2X, j2Y, j2FitX, j2FitY, j2BandX, j2BandUp, j2BandLo,
  'Mitsuokella vs. IgA⁺ PCs', '{i|R}{n| = −0.4, }{i|P}{n| = 0.045}', 784, 1988);
jPlot([1115, 1886, 293, 126], [-11.02, -4.66], [-11, -10, -9, -8, -7, -6, -5], [2.15, 4.77], [2.5, 3, 3.5, 4, 4.5], 1, j3X, j3Y, j3FitX, j3FitY, j3BandX, j3BandUp, j3BandLo,
  'Enterobacter vs. IgA⁺ PCs', '{i|R}{n| = −0.5, }{i|P}{n| = 0.011}', 1131, 1988);
T(352, 1948, 'Immune cell', { fs: 16, rot: Math.PI / 2 });
T(373, 1948, 'log(abundance)', { fs: 16, rot: Math.PI / 2 });
T(825, 2066, 'Genus', { fs: 16, ff: NARROW });
T(825, 2086, 'log(relative abundance)', { fs: 16, ff: NARROW });

// ================= panel letters
[['A', 10, 18], ['B', 1006, 18], ['C', 2, 420], ['D', 2, 803], ['E', 512, 803], ['F', 1122, 809],
 ['G', 2, 1308], ['H', 323, 1308], ['I', 1114, 1308], ['J', 418, 1828]].forEach(L => {
  T(L[1], L[2], L[0], { fs: 28, fw: 'bold', align: 'left', ff: ARIAL, color: '#000' });
});

const chart = echarts.init(document.getElementById('fig'), null, { renderer: 'canvas' });
chart.setOption({
  animation: false,
  backgroundColor: '#fff',
  textStyle: { fontFamily: FONT },
  grid: grids,
  xAxis: xAxes,
  yAxis: yAxes,
  series: series,
  graphic: { elements: graphics }
});
</script>
</body>
</html>
